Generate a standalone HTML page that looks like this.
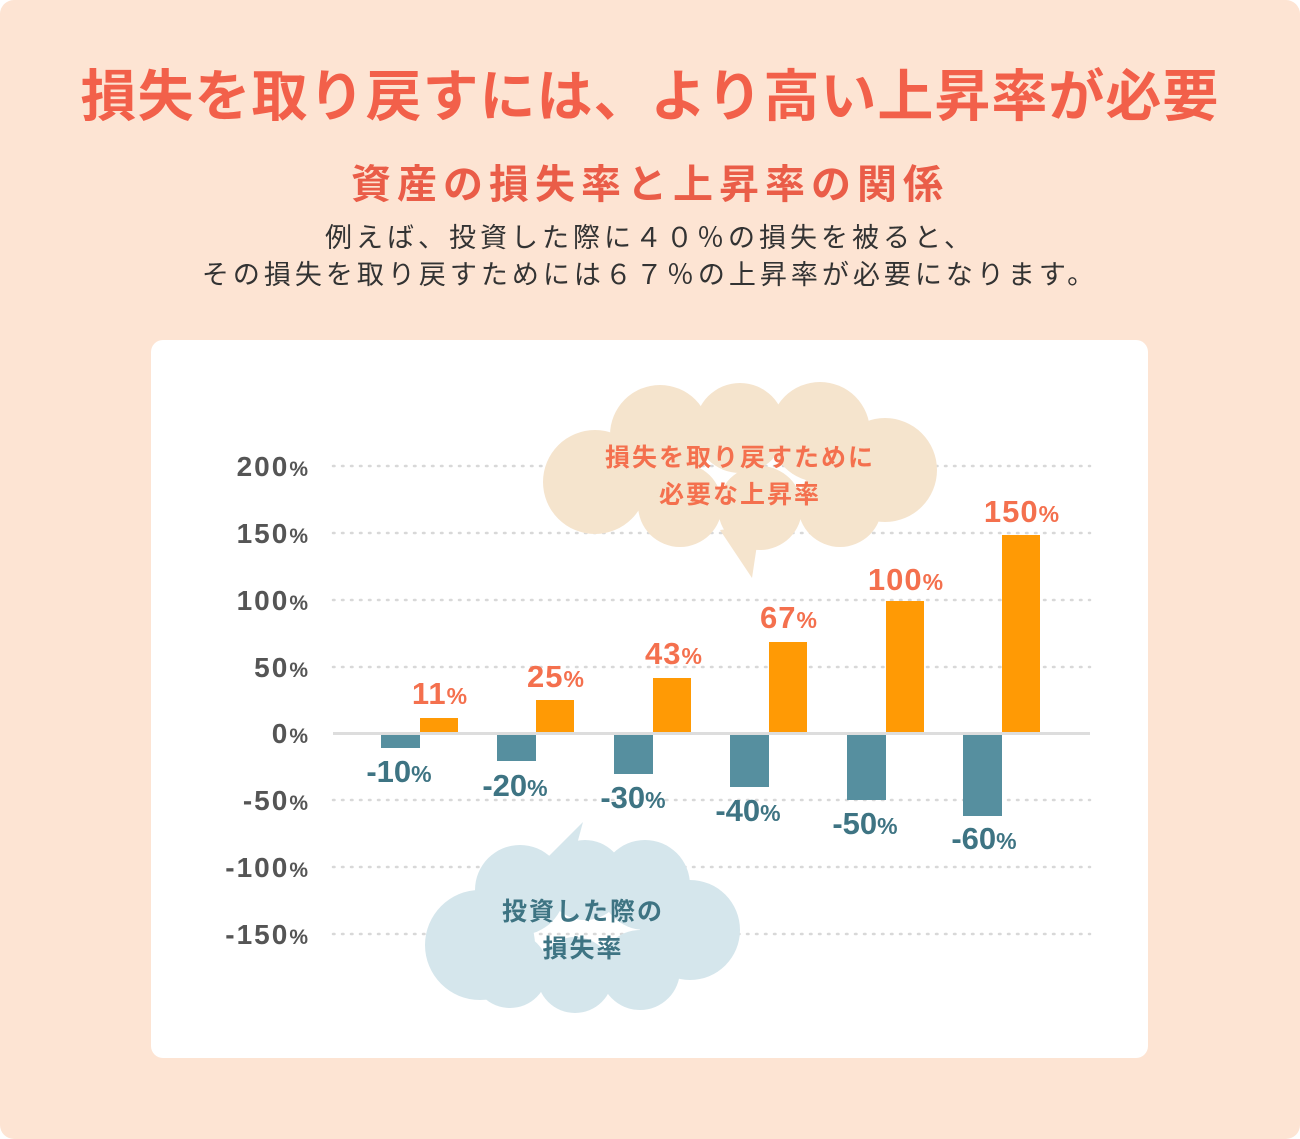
<!DOCTYPE html>
<html><head><meta charset="utf-8"><style>
body{margin:0;width:1300px;height:1139px;background:#fff;font-family:"Liberation Sans","Noto Sans CJK JP",sans-serif;}
.bg{position:absolute;left:0;top:0;width:1300px;height:1139px;background:#fde4d3;border-radius:14px;}
.t{position:absolute;left:0;width:1300px;text-align:center;}
</style></head><body>
<div class="bg"></div>
<div class="t" style="top:52px;font-size:56px;font-weight:bold;color:#f2604a;letter-spacing:1px;">損失を取り戻すには、より高い上昇率が必要</div>
<div class="t" style="top:152px;font-size:40px;font-weight:bold;color:#ea5d48;letter-spacing:6px;">資産の損失率と上昇率の関係</div>
<div class="t" style="top:220px;font-size:27px;color:#333;line-height:37px;letter-spacing:4px;">例えば、投資した際に４０％の損失を被ると、<br>その損失を取り戻すためには６７％の上昇率が必要になります。</div>
<svg style="position:absolute;left:0;top:0" width="1300" height="1139">
<rect x="151" y="340" width="997" height="718" rx="12" fill="#fff"/>
<g stroke="#d8d8d8" stroke-width="2.5" stroke-dasharray="1.5 7.5" stroke-linecap="round">
<line x1="333" y1="466" x2="1090" y2="466"/><line x1="333" y1="533" x2="1090" y2="533"/>
<line x1="333" y1="600" x2="1090" y2="600"/><line x1="333" y1="667" x2="1090" y2="667"/>
<line x1="333" y1="800" x2="1090" y2="800"/><line x1="333" y1="867" x2="1090" y2="867"/>
<line x1="333" y1="934" x2="1090" y2="934"/>
</g>
<g font-weight="bold" fill="#555" text-anchor="end" font-size="28" letter-spacing="2">
<text x="310" y="476">200<tspan font-size="21">%</tspan></text>
<text x="310" y="543">150<tspan font-size="21">%</tspan></text>
<text x="310" y="610">100<tspan font-size="21">%</tspan></text>
<text x="310" y="677">50<tspan font-size="21">%</tspan></text>
<text x="310" y="743">0<tspan font-size="21">%</tspan></text>
<text x="310" y="810">-50<tspan font-size="21">%</tspan></text>
<text x="310" y="877">-100<tspan font-size="21">%</tspan></text>
<text x="310" y="944">-150<tspan font-size="21">%</tspan></text>
</g>
<!-- top cloud -->
<g fill="#f5e4cd">
<circle cx="595" cy="482" r="52"/><circle cx="660" cy="435" r="50"/><circle cx="740" cy="428" r="45"/><circle cx="820" cy="432" r="50"/><circle cx="885" cy="470" r="52"/><circle cx="840" cy="505" r="42"/><circle cx="760" cy="508" r="42"/><circle cx="680" cy="505" r="42"/>
<path d="M720 530 L752 578 L760 525 Z"/>
</g>
<g fill="#f4704e" font-weight="bold" font-size="25" text-anchor="middle" letter-spacing="2">
<text x="740" y="466">損失を取り戻すために</text><text x="740" y="503">必要な上昇率</text>
</g>
<!-- bottom cloud -->
<g fill="#d5e6ec">
<circle cx="480" cy="945" r="55"/><circle cx="520" cy="890" r="45"/><circle cx="585" cy="880" r="40"/><circle cx="645" cy="885" r="45"/><circle cx="690" cy="930" r="50"/><circle cx="640" cy="970" r="40"/><circle cx="575" cy="975" r="38"/><circle cx="510" cy="970" r="38"/>
<path d="M545 860 L583 822 L570 870 Z"/>
</g>
<g fill="#3e7483" font-weight="bold" font-size="25" text-anchor="middle" letter-spacing="2">
<text x="583" y="920">投資した際の</text><text x="583" y="957">損失率</text>
</g>
<g fill="#ff9a05">
<rect x="420" y="718" width="38" height="15"/><rect x="536" y="700" width="38" height="33"/>
<rect x="653" y="678" width="38" height="55"/><rect x="769" y="642" width="38" height="91"/>
<rect x="886" y="601" width="38" height="132"/><rect x="1002" y="535" width="38" height="198"/>
</g>
<g fill="#568f9f">
<rect x="381" y="735" width="39" height="13"/><rect x="497" y="735" width="39" height="26"/>
<rect x="614" y="735" width="39" height="39"/><rect x="730" y="735" width="39" height="52"/>
<rect x="847" y="735" width="39" height="65"/><rect x="963" y="735" width="39" height="81"/>
</g>
<line x1="333" y1="733.5" x2="1090" y2="733.5" stroke="#ddd" stroke-width="3"/>
<g fill="#f4704e" font-weight="bold" font-size="31" text-anchor="middle" letter-spacing="1">
<text x="440" y="704">11<tspan font-size="23">%</tspan></text>
<text x="556" y="687">25<tspan font-size="23">%</tspan></text>
<text x="674" y="664">43<tspan font-size="23">%</tspan></text>
<text x="789" y="628">67<tspan font-size="23">%</tspan></text>
<text x="906" y="590">100<tspan font-size="23">%</tspan></text>
<text x="1022" y="522">150<tspan font-size="23">%</tspan></text>
</g>
<g fill="#3e7483" font-weight="bold" font-size="31" text-anchor="middle">
<text x="399" y="782">-10<tspan font-size="23">%</tspan></text>
<text x="515" y="796">-20<tspan font-size="23">%</tspan></text>
<text x="633" y="808">-30<tspan font-size="23">%</tspan></text>
<text x="748" y="821">-40<tspan font-size="23">%</tspan></text>
<text x="865" y="834">-50<tspan font-size="23">%</tspan></text>
<text x="984" y="849">-60<tspan font-size="23">%</tspan></text>
</g>
</svg>
</body></html>
